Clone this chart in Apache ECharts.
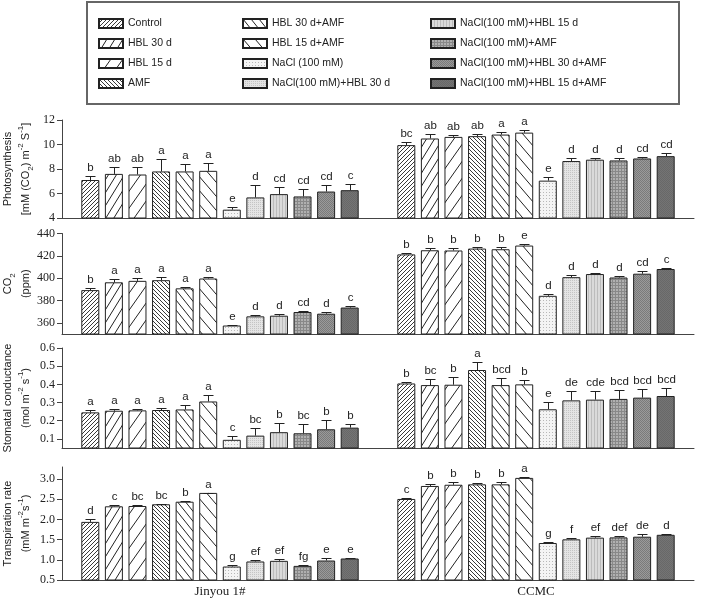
<!DOCTYPE html>
<html>
<head>
<meta charset="utf-8">
<script src="https://cdn.jsdelivr.net/npm/echarts@6/dist/echarts.min.js"></script>
<style>html,body{margin:0;padding:0;background:#fff}#c{width:709px;height:601px}</style>
</head>
<body>
<div id="c"></div>
<script>
// ---------- data ----------
const categories = ['Jinyou 1#', 'CCMC'];
const treatments = ['Control', 'HBL 30 d', 'HBL 15 d', 'AMF', 'HBL 30 d+AMF', 'HBL 15 d+AMF',
  'NaCl (100 mM)', 'NaCl(100 mM)+HBL 30 d', 'NaCl(100 mM)+HBL 15 d', 'NaCl(100 mM)+AMF',
  'NaCl(100 mM)+HBL 30 d+AMF', 'NaCl(100 mM)+HBL 15 d+AMF'];

const photo_jinyou = [7.1, 7.6, 7.55, 7.8, 7.8, 7.85, 4.68, 5.68, 5.95, 5.76, 6.16, 6.27];
const photo_jinyou_se = [0.36, 0.53, 0.58, 1.0, 0.58, 0.65, 0.22, 1.0, 0.62, 0.62, 0.52, 0.51];
const photo_jinyou_sig = ['b','ab','ab','a','a','a','e','d','cd','cd','cd','c'];
const photo_ccmc = [9.95, 10.49, 10.62, 10.68, 10.81, 10.97, 7.05, 8.65, 8.76, 8.7, 8.86, 9.05];
const photo_ccmc_se = [0.25, 0.35, 0.19, 0.21, 0.19, 0.19, 0.27, 0.21, 0.16, 0.16, 0.14, 0.27];
const photo_ccmc_sig = ['bc','ab','ab','ab','a','a','e','d','d','d','cd','cd'];

const co2_jinyou = [389.3, 396.3, 397.6, 398.2, 390.9, 399.7, 357.6, 365.8, 366.4, 369.7, 368.2, 373.7];
const co2_jinyou_se = [1.6, 2.8, 2.7, 2.4, 1.5, 1.5, 0.9, 1.5, 1.2, 1.2, 1.5, 1.2];
const co2_jinyou_sig = ['b','a','a','a','a','a','e','d','d','cd','d','c'];
const co2_ccmc = [421.3, 425.0, 424.8, 426.5, 425.9, 429.2, 384.2, 400.9, 403.7, 400.6, 404.0, 408.2];
const co2_ccmc_se = [1.5, 1.6, 2.1, 1.5, 1.6, 1.5, 1.8, 1.5, 1.2, 1.5, 2.1, 1.2];
const co2_ccmc_sig = ['b','b','b','b','b','e','d','d','d','d','cd','c'];

const gs_jinyou = [0.246, 0.255, 0.257, 0.259, 0.262, 0.306, 0.095, 0.118, 0.137, 0.131, 0.153, 0.162];
const gs_jinyou_se = [0.013, 0.011, 0.009, 0.009, 0.024, 0.035, 0.02, 0.042, 0.049, 0.051, 0.049, 0.022];
const gs_jinyou_sig = ['a','a','a','a','a','a','c','bc','b','bc','b','b'];
const gs_ccmc = [0.405, 0.396, 0.398, 0.479, 0.396, 0.4, 0.263, 0.312, 0.316, 0.32, 0.327, 0.336];
const gs_ccmc_se = [0.01, 0.033, 0.04, 0.042, 0.038, 0.024, 0.04, 0.05, 0.048, 0.047, 0.046, 0.042];
const gs_ccmc_sig = ['b','bc','b','a','bcd','b','e','de','cde','bcd','bcd','bcd'];

const tr_jinyou = [1.94, 2.326, 2.334, 2.376, 2.44, 2.658, 0.834, 0.959, 0.975, 0.85, 0.983, 1.033];
const tr_jinyou_se = [0.06, 0.03, 0.03, 0.015, 0.02, 0.008, 0.033, 0.03, 0.04, 0.025, 0.05, 0.017];
const tr_jinyou_sig = ['d','c','bc','bc','b','a','g','ef','ef','fg','e','e'];
const tr_ccmc = [2.508, 2.83, 2.86, 2.87, 2.87, 3.03, 1.417, 1.508, 1.55, 1.556, 1.573, 1.62];
const tr_ccmc_se = [0.03, 0.06, 0.06, 0.03, 0.06, 0.03, 0.023, 0.03, 0.05, 0.045, 0.055, 0.03];
const tr_ccmc_sig = ['c','b','b','b','b','a','g','f','ef','def','de','d'];

const photo_ticks = [4, 6, 8, 10, 12];
const co2_ticks = [360, 380, 400, 420, 440];
const gs_ticks = [0.1, 0.2, 0.3, 0.4, 0.5, 0.6];
const tr_ticks = [0.5, 1.0, 1.5, 2.0, 2.5, 3.0];

// ---------- styles ----------
function hatch(w, h, dir, lw) {
  const c = document.createElement('canvas');
  c.width = w; c.height = h;
  const g = c.getContext('2d');
  g.fillStyle = '#fff'; g.fillRect(0, 0, w, h);
  g.strokeStyle = '#222'; g.lineWidth = lw;
  g.beginPath();
  if (dir === 'f') {
    g.moveTo(-w, 2 * h); g.lineTo(2 * w, -h);
    g.moveTo(-2 * w, 2 * h); g.lineTo(w, -h);
    g.moveTo(0, 2 * h); g.lineTo(3 * w, -h);
  } else {
    g.moveTo(-w, -h); g.lineTo(2 * w, 2 * h);
    g.moveTo(-2 * w, -h); g.lineTo(w, 2 * h);
    g.moveTo(0, -h); g.lineTo(3 * w, 2 * h);
  }
  g.stroke();
  return { image: c, repeat: 'repeat' };
}
function dots(size, bg, fg, kind) {
  const c = document.createElement('canvas');
  c.width = size; c.height = size;
  const g = c.getContext('2d');
  g.fillStyle = bg; g.fillRect(0, 0, size, size);
  g.fillStyle = fg;
  if (kind === 'grid') { g.fillRect(0, 0, size, 1); g.fillRect(0, 0, 1, size); }
  else if (kind === 'vert') { g.fillRect(0, 0, 1, size); }
  else if (kind === 'check') { g.fillRect(0, 0, 1, 1); g.fillRect(1, 1, 1, 1); }
  else { g.fillRect(0, 0, 1, 1); }
  return { image: c, repeat: 'repeat' };
}
const fills = [
  hatch(4, 4, 'f', 0.9),
  hatch(8, 13, 'f', 1),
  hatch(12, 17, 'f', 1),
  hatch(4, 4, 'b', 0.9),
  hatch(8, 10, 'b', 1),
  hatch(12, 14, 'b', 1),
  dots(3, '#f4f4f4', '#b8b8b8', 'dot'),
  dots(2, '#e4e4e4', '#c4c4c4', 'dot'),
  dots(3, '#dadada', '#bcbcbc', 'vert'),
  dots(3, '#b0b0b0', '#888', 'grid'),
  dots(2, '#9a9a9a', '#7a7a7a', 'check'),
  dots(2, '#747474', '#686868', 'check')
];

const serif = 'Liberation Serif';
const sans = 'Liberation Sans';
const BW = 18, GAP = 0.31;

const panels = [
  { jin: photo_jinyou, jinSe: photo_jinyou_se, jinSig: photo_jinyou_sig, cc: photo_ccmc, ccSe: photo_ccmc_se, ccSig: photo_ccmc_sig,
    min: 4, max: 12, ticks: photo_ticks, fmt: v => String(v),
    name: 'Photosynthesis\n{n|[mM (CO}{sub|2}{n|) m}{sup|-2}{n| S}{sup|-1}{n|]}', top: 120, height: 98 },
  { jin: co2_jinyou, jinSe: co2_jinyou_se, jinSig: co2_jinyou_sig, cc: co2_ccmc, ccSe: co2_ccmc_se, ccSig: co2_ccmc_sig,
    min: 350, max: 440, ticks: co2_ticks, fmt: v => String(v),
    name: '{n|CO}{sub|2}\n(ppm)', top: 233.5, height: 100.5 },
  { jin: gs_jinyou, jinSe: gs_jinyou_se, jinSig: gs_jinyou_sig, cc: gs_ccmc, ccSe: gs_ccmc_se, ccSig: gs_ccmc_sig,
    min: 0.05, max: 0.6, ticks: gs_ticks, fmt: v => v.toFixed(1),
    name: 'Stomatal conductance\n{n|(mol m}{sup|-2}{n| s}{sup|-1}{n|)}', top: 348, height: 100 },
  { jin: tr_jinyou, jinSe: tr_jinyou_se, jinSig: tr_jinyou_sig, cc: tr_ccmc, ccSe: tr_ccmc_se, ccSig: tr_ccmc_sig,
    min: 0.5, max: 3.3, ticks: tr_ticks, fmt: v => v.toFixed(1),
    name: 'Transpiration rate\n{n|(mM m}{sup|-2}{n|s}{sup|-1}{n|)}', top: 467, height: 113 }
];

const grid = [], xAxis = [], yAxis = [], series = [];
panels.forEach((p, pi) => {
  grid.push({ left: 62, right: 15, top: p.top, height: p.height, containLabel: false, outerBoundsMode: 'none' });
  xAxis.push({
    type: 'category', gridIndex: pi, data: categories,
    axisLine: { lineStyle: { color: '#444', width: 1 } },
    axisTick: { alignWithLabel: true, length: 4, lineStyle: { color: '#444' } },
    axisLabel: { show: pi === 3, fontFamily: serif, fontSize: 13, color: '#222', margin: 5 }
  });
  yAxis.push({
    type: 'value', gridIndex: pi, min: p.min, max: p.max,
    splitLine: { show: false },
    axisLine: { show: true, lineStyle: { color: '#444', width: 1 } },
    axisTick: { show: true, length: 5, customValues: p.ticks, lineStyle: { color: '#444' } },
    axisLabel: { customValues: p.ticks, formatter: p.fmt, fontFamily: serif, fontSize: 12, color: '#222', margin: 7 },
    name: p.name, nameLocation: 'middle', nameRotate: 90, nameGap: 27, nameMoveOverlap: false,
    nameTextStyle: {
      fontFamily: sans, fontSize: 11, color: '#222', lineHeight: 18,
      rich: {
        n: { fontFamily: sans, fontSize: 11, color: '#222', lineHeight: 18 },
        sup: { fontFamily: sans, fontSize: 8, color: '#222', lineHeight: 10, verticalAlign: 'top' },
        sub: { fontFamily: sans, fontSize: 8, color: '#222', lineHeight: 10, verticalAlign: 'bottom' }
      }
    }
  });
  treatments.forEach((t, ti) => {
    series.push({
      type: 'bar', name: t, xAxisIndex: pi, yAxisIndex: pi,
      data: [p.jin[ti], p.cc[ti]],
      barWidth: BW, barGap: (GAP * 100) + '%',
      itemStyle: { color: fills[ti], borderColor: '#222', borderWidth: 1 },
      emphasis: { disabled: true }, silent: true, animation: false
    });
  });
  const errData = [], sigs = [];
  [[p.jin, p.jinSe, p.jinSig], [p.cc, p.ccSe, p.ccSig]].forEach((grp, ci) => {
    grp[0].forEach((v, ti) => { errData.push([ci, ti, v, grp[1][ti]]); sigs.push(grp[2][ti]); });
  });
  series.push({
    type: 'custom', xAxisIndex: pi, yAxisIndex: pi, data: errData, z: 5,
    encode: { x: 0, y: 2 }, silent: true, animation: false, clip: false,
    renderItem: function (params, api) {
      const cat = api.value(0), si = api.value(1), v = api.value(2), e = api.value(3);
      const n = treatments.length, gap = BW * GAP;
      const total = n * BW + (n - 1) * gap;
      const off = -total / 2 + si * (BW + gap) + BW / 2;
      const p0 = api.coord([cat, v]);
      const p1 = api.coord([cat, v + e]);
      const x = Math.round(p0[0] + off) + 0.5;
      const yt = Math.round(p1[1]) + 0.5;
      return {
        type: 'group', children: [
          { type: 'line', shape: { x1: x, y1: p0[1], x2: x, y2: yt }, style: { stroke: '#222', lineWidth: 1 } },
          { type: 'line', shape: { x1: x - 5, y1: yt, x2: x + 5, y2: yt }, style: { stroke: '#222', lineWidth: 1 } },
          { type: 'text', style: { text: sigs[params.dataIndex], x: x, y: yt - 3, align: 'center', verticalAlign: 'bottom',
              fontFamily: sans, fontSize: 11.5, fill: '#222' } }
        ]
      };
    }
  });
});

const legendBase = {
  orient: 'vertical', padding: 0, itemWidth: 24, itemHeight: 9, itemGap: 9, icon: 'rect',
  selectedMode: false, textStyle: { fontFamily: sans, fontSize: 10.5, color: '#222' }
};
const legend = [
  Object.assign({}, legendBase, { left: 98, top: 18, data: treatments.slice(0, 4) }),
  Object.assign({}, legendBase, { left: 242, top: 18, data: treatments.slice(4, 8) }),
  Object.assign({}, legendBase, { left: 430, top: 18, data: treatments.slice(8, 12) })
];

const chart = echarts.init(document.getElementById('c'));
chart.setOption({
  animation: false,
  backgroundColor: '#fff',
  legend: legend,
  grid: grid, xAxis: xAxis, yAxis: yAxis, series: series,
  graphic: [{ type: 'rect', shape: { x: 87, y: 2, width: 592, height: 102 }, style: { fill: 'none', stroke: '#666', lineWidth: 2 }, silent: true }]
});
</script>
</body>
</html>
